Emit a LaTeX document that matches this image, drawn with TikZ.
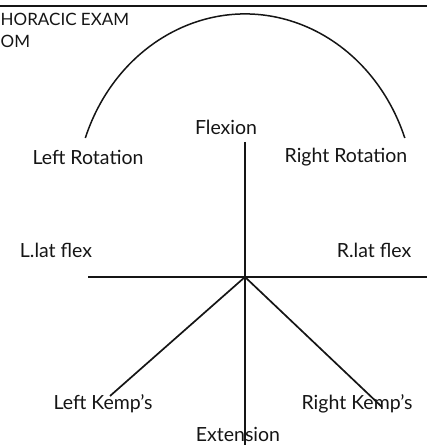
\documentclass[tikz,border=0pt]{standalone}
\usepackage{fontspec}
\setsansfont{Lato}
\usepackage{xcolor}
\definecolor{ink}{HTML}{151515}
\usetikzlibrary{positioning}

\begin{document}
\begin{tikzpicture}[
  x=1pt, y=1pt,
  every node/.style={font=\sffamily, text=ink},
  motion/.style={font=\fontsize{19.5}{22}\selectfont\sffamily, inner sep=0pt},
  heading/.style={font=\fontsize{17}{19}\selectfont\sffamily, inner sep=0pt, anchor=west},
  axis/.style={draw=ink, line width=1.7pt},
  swing/.style={draw=ink, line width=1.5pt}
]
  \useasboundingbox (0,0) rectangle (427,445);

  % frame edge and title
  \coordinate (topL) at (0,439);
  \coordinate (topR) at (427,439);
  \draw[axis] (topL) -- (topR);
  \node[heading] (title) at (0.5,426) {HORACIC EXAM};
  \node[heading] (title2) at (0.5,404) {OM};

  % centre point and end points
  \coordinate (c) at (245,168);
  \coordinate (flexEnd) at (245,303);
  \coordinate (extEnd) at (245,0);
  \coordinate (latL) at (88,168);
  \coordinate (latR) at (427,168);
  \coordinate (kempL) at (110,49);
  \coordinate (kempR) at (382,38);
  \coordinate (rotL) at (85.3,307);

  % labels
  \node[motion] (flex) at (226,318) {Flexion};
  \node[motion] (lrot) at (88,288) {Left Rotation};
  \node[motion] (rrot) at (346,288) {Right Rotation};
  \node[motion] (llat) at (56,195) {L.lat flex};
  \node[motion] (rlat) at (374,195) {R.lat flex};
  \node[motion] (lkemp) at (103,41) {Left Kemp's};
  \node[motion] (rkemp) at (357,41) {Right Kemp's};
  \node[motion] (ext) at (238,11) {Extension};

  % lines
  \draw[axis] (flexEnd) -- (c);
  \draw[axis] (c) -- (extEnd);
  \draw[axis] (latL) -- (c);
  \draw[axis] (c) -- (latR);
  \draw[axis] (c) -- (kempL);
  \draw[axis] (c) -- (kempR);
  \draw[swing] (rotL) arc[start angle=160, end angle=20, x radius=170pt, y radius=188.5pt];
\end{tikzpicture}
\end{document}
